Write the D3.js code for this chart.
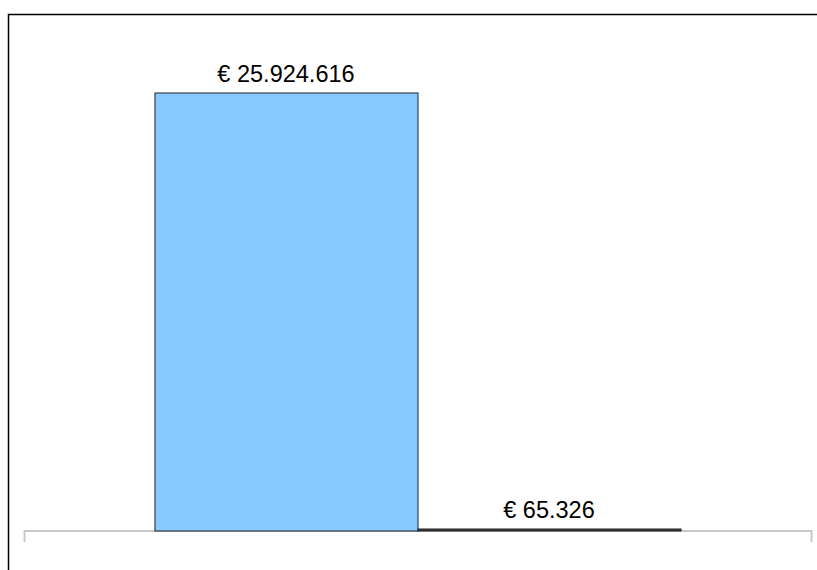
<!DOCTYPE html>
<html><head><meta charset="utf-8">
<script src="https://cdn.jsdelivr.net/npm/d3@7"></script>
<style>html,body{margin:0;padding:0;background:#fff;}svg{display:block;}</style>
</head><body>
<script>
const categories = [""];
const seriesNames = ["A", "B"];
const seriesValues = [25924616, 65326];
const valueLabels = ["€ 25.924.616", "€ 65.326"];
const barFills = ["#86caff", "#3c3c3c"];

const W = 817, H = 570;
const svg = d3.select("body").append("svg").attr("width", W).attr("height", H);

// frame
svg.append("path").attr("d", `M8.5,${H} V14.5 H${W}`).attr("fill","none").attr("stroke","#000").attr("stroke-width",1.5);

const x0 = d3.scaleBand().domain(categories).range([24, 811]).paddingInner(0).paddingOuter(0.248);
const x1 = d3.scaleBand().domain(seriesNames).range([0, x0.bandwidth()]).padding(0);
const y = d3.scaleLinear().domain([0, seriesValues[0]]).range([531, 93]);

// axis
const axis = d3.axisBottom(x0).tickSize(0).tickFormat("");
const gAx = svg.append("g").attr("transform","translate(0,531)").call(axis);
gAx.select(".domain").remove();
gAx.append("path").attr("d","M24.5,11 V0 H811.5 V11").attr("fill","none").attr("stroke","#c8c8c8").attr("stroke-width",2);

const g = svg.append("g").attr("transform", `translate(${x0(categories[0])},0)`);
g.selectAll("rect").data(seriesValues).join("rect")
  .attr("x", (d,i) => x1(seriesNames[i]) + 0.5)
  .attr("y", d => Math.min(y(d), 529))
  .attr("width", x1.bandwidth())
  .attr("height", d => Math.max(y(0) - y(d), 2))
  .attr("fill", (d,i) => barFills[i])
  .attr("stroke", "#222").attr("stroke-width", 1);

g.selectAll("text").data(seriesValues).join("text")
  .attr("x", (d,i) => x1(seriesNames[i]) + x1.bandwidth()/2)
  .attr("y", d => Math.min(y(d), 529) - 11)
  .attr("text-anchor","middle")
  .attr("font-family","Liberation Sans, Arial, sans-serif")
  .attr("font-size", 23.5)
  .attr("fill","#000")
  .text((d,i) => valueLabels[i]);
</script>
</body></html>
